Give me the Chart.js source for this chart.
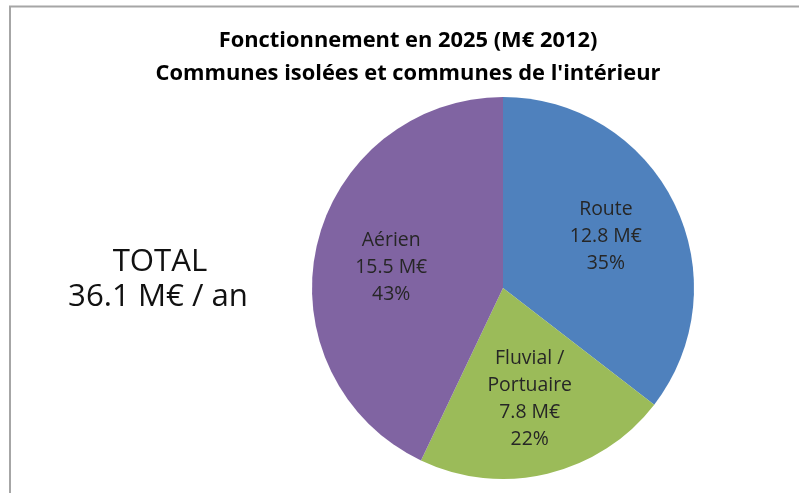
<!DOCTYPE html>
<html>
<head>
<meta charset="utf-8">
<script src="https://cdn.jsdelivr.net/npm/chart.js@4.4.0/dist/chart.umd.min.js"></script>
<style>
  html, body { margin: 0; padding: 0; background: #fff; }
  #wrap { width: 799px; height: 493px; position: relative; }
</style>
</head>
<body>
<div id="wrap"><canvas id="chart" width="799" height="493"></canvas></div>
<script>
// data
const categories = ["Route", "Fluvial / Portuaire", "Aérien"];
const labelLines = [["Route"], ["Fluvial /", "Portuaire"], ["Aérien"]];
const values = [12.8, 7.8, 15.5];
const colors = ["#4F81BD", "#9BBB59", "#8064A2"];
const titleLines = ["Fonctionnement en 2025 (M€ 2012)", "Communes isolées et communes de l'intérieur"];
const totalLines = ["TOTAL", "36.1 M€ / an"];

const FAMILY = "'Open Sans', Lato, sans-serif";

// pick a font size so that a sample string takes a given width
function fitFont(ctx, weight, sample, width) {
  ctx.font = weight + " 20px " + FAMILY;
  const size = 20 * width / ctx.measureText(sample).width;
  return weight + " " + size.toFixed(2) + "px " + FAMILY;
}

const decor = {
  id: "decor",
  beforeDraw(chart) {
    const ctx = chart.ctx;
    ctx.save();
    ctx.fillStyle = "#fff";
    ctx.fillRect(0, 0, chart.width, chart.height);
    // frame (only top and left edges visible)
    ctx.strokeStyle = "#a6a6a6";
    ctx.lineWidth = 2;
    ctx.beginPath();
    ctx.moveTo(10, chart.height);
    ctx.lineTo(10, 6.5);
    ctx.lineTo(chart.width, 6.5);
    ctx.stroke();
    ctx.restore();
  },
  afterDraw(chart) {
    const ctx = chart.ctx;
    ctx.save();
    ctx.textAlign = "center";
    ctx.textBaseline = "middle";

    // title
    ctx.fillStyle = "#000";
    ctx.font = fitFont(ctx, "bold", titleLines[1], 505);
    ctx.fillText(titleLines[0], 408, 41);
    ctx.fillText(titleLines[1], 408, 74);

    // total
    ctx.fillStyle = "#111";
    ctx.font = fitFont(ctx, "normal", totalLines[1], 180);
    ctx.fillText(totalLines[0], 160, 262);
    ctx.fillText(totalLines[1], 158, 297);

    // slice labels
    const meta = chart.getDatasetMeta(0);
    const total = values.reduce((a, b) => a + b, 0);
    const shiftY = [-1, 0, 5];
    ctx.fillStyle = "#262626";
    ctx.font = fitFont(ctx, "normal", "12.8 M€", 72);
    meta.data.forEach((arc, i) => {
      const p = arc.getProps(["x", "y", "startAngle", "endAngle", "outerRadius"], true);
      const mid = (p.startAngle + p.endAngle) / 2;
      const r = p.outerRadius * 0.6;
      const cx = p.x + Math.cos(mid) * r;
      const cy = p.y + Math.sin(mid) * r + shiftY[i];
      const lines = labelLines[i].concat([values[i].toFixed(1) + " M€", Math.round(values[i] / total * 100) + "%"]);
      const lh = 27;
      const y0 = cy - (lines.length - 1) * lh / 2;
      lines.forEach((t, k) => ctx.fillText(t, cx, y0 + k * lh));
    });
    ctx.restore();
  }
};

new Chart(document.getElementById("chart"), {
  type: "pie",
  data: {
    labels: categories,
    datasets: [{
      data: values,
      backgroundColor: colors,
      borderWidth: 0
    }]
  },
  options: {
    responsive: false,
    animation: false,
    layout: { padding: { top: 97, bottom: 14, left: 312, right: 105 } },
    plugins: {
      legend: { display: false },
      title: { display: false },
      tooltip: { enabled: false }
    }
  },
  plugins: [decor]
});
</script>
</body>
</html>
